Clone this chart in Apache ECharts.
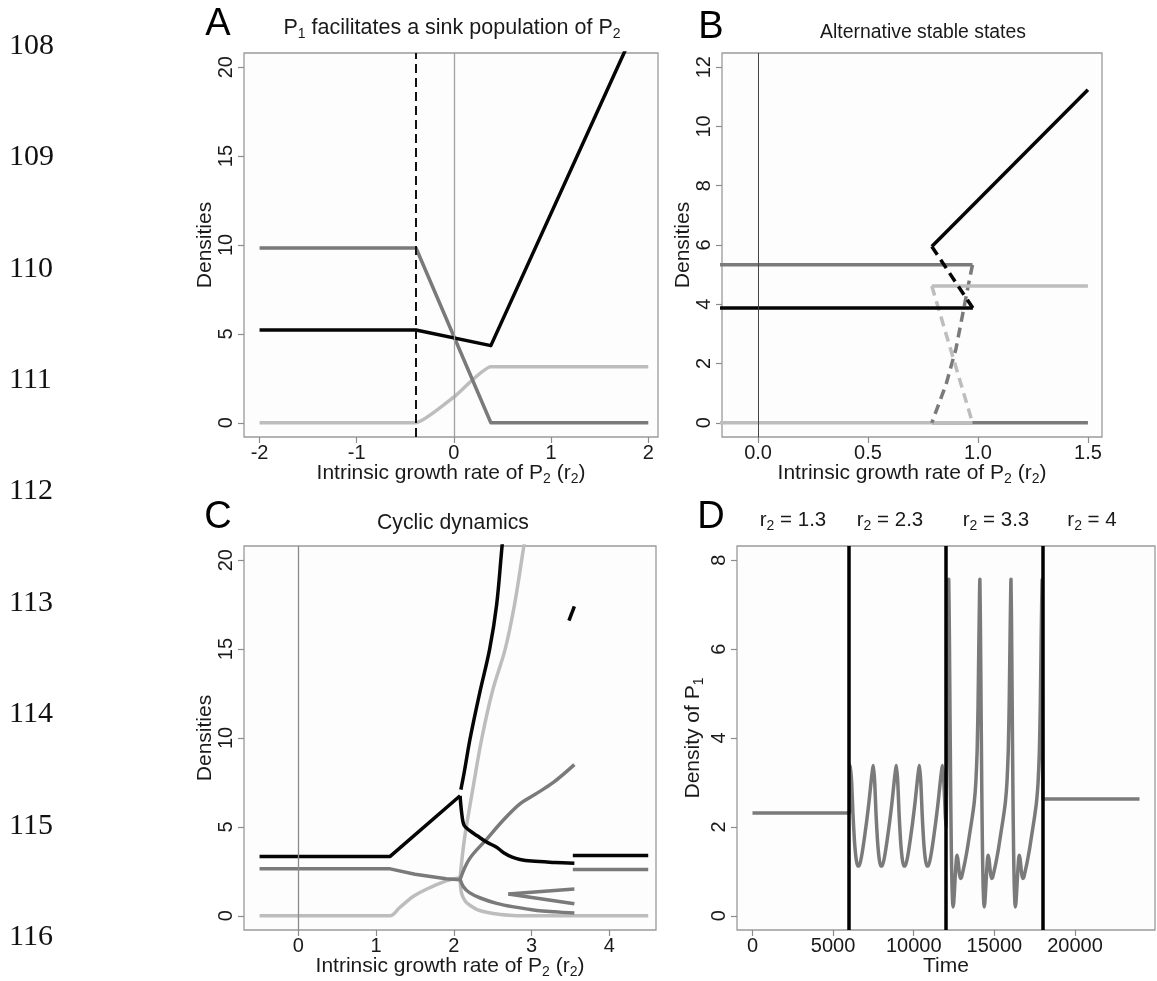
<!DOCTYPE html>
<html><head><meta charset="utf-8">
<script src="https://cdn.jsdelivr.net/npm/echarts@6/dist/echarts.min.js"></script>
<style>html,body{margin:0;padding:0;background:#fff}#c{width:1157px;height:981px}</style>
</head><body><div id="c"></div>
<script>
// ================= DATA =================
const lineNumbers = ['108','109','110','111','112','113','114','115','116'];
const panelLetters = ['A','B','C','D'];
const titleA = ['P','1',' facilitates a sink population of P','2'];
const titleB = 'Alternative stable states';
const titleC = 'Cyclic dynamics';
const regimeLabels = ['1.3','2.3','3.3','4'];
const xNameR2 = 'Intrinsic growth rate of P';
const yNameDens = 'Densities';

// tick values
const A_xTicks = [-2,-1,0,1,2],  A_yTicks = [0,5,10,15,20];
const B_xTicks = [0,0.5,1,1.5], B_yTicks = [0,2,4,6,8,10,12];
const C_xTicks = [0,1,2,3,4],    C_yTicks = [0,5,10,15,20];
const D_xTicks = [0,5000,10000,15000,20000], D_yTicks = [0,2,4,6,8];

// Panel A: densities vs r2
const A_threshold = -0.39;
const A_light = [[-2,0],[-0.39,0],[0,1.45],[0.38,3.15],[2,3.15]];
const A_dark  = [[-2,9.83],[-0.39,9.83],[0.38,0],[2,0]];
const A_black = [[-2,5.22],[-0.39,5.22],[0.38,4.34],[2,23.8]];

// Panel B: alternative stable states
const B_darkZero  = [[0.79,0],[1.5,0]];
const B_lightZero = [[-0.2,0],[0.975,0]];
const B_darkUp    = [[-0.2,5.33],[0.975,5.33]];
const B_darkDash  = [[0.975,5.33],[0.955,4.6],[0.90,2.5],[0.855,1.3],[0.79,0]];
const B_lightUp   = [[0.79,4.62],[1.5,4.62]];
const B_lightDash = [[0.79,4.62],[0.975,0]];
const B_blackLow  = [[-0.2,3.87],[0.977,3.87]];
const B_blackDash = [[0.79,5.95],[0.977,3.87]];
const B_blackUp   = [[0.79,5.95],[1.5,11.24]];

// Panel C: cyclic dynamics (equilibria, cycle max/min)
const C_lightMain = [[-0.5,0],[1.18,0],[1.3,0.45],[1.48,1.1],[1.7,1.6],[1.91,1.98],[2.08,2.14]];
const C_lightUp   = [[2.08,2.14],[2.12,3.8],[2.16,5],[2.25,7.3],[2.36,10],[2.5,12.7],[2.66,15],[2.78,17.5],[2.9,20.8],[2.93,21.6]];
const C_lightLow  = [[2.08,2.14],[2.1,1.24],[2.15,0.8],[2.21,0.58],[2.3,0.35],[2.42,0.2],[2.6,0.07],[2.75,0.02],[2.85,0],[4.5,0]];
const C_darkMain  = [[-0.5,2.64],[1.18,2.64],[1.5,2.34],[1.9,2.08],[2.08,2.03]];
const C_darkUp    = [[2.08,2.05],[2.2,3.2],[2.42,4.3],[2.64,5.4],[2.85,6.3],[3.07,6.9],[3.28,7.5],[3.55,8.5]];
const C_darkLow   = [[2.08,2.05],[2.12,1.65],[2.2,1.3],[2.34,1.0],[2.55,0.7],[2.77,0.5],[3.07,0.3],[3.3,0.22],[3.55,0.15]];
const C_darkForkA = [[2.7,1.22],[3.55,1.5]];
const C_darkForkB = [[2.7,1.22],[3.55,0.68]];
const C_darkRight = [[3.53,2.6],[4.5,2.6]];
const C_blackRise = [[-0.5,3.34],[1.18,3.34],[2.08,6.75]];
const C_blackLow  = [[2.08,6.75],[2.10,5.8],[2.13,5.1],[2.2,4.8],[2.3,4.5],[2.42,4.15],[2.55,3.85],[2.64,3.55],[2.75,3.3],[2.85,3.17],[3.0,3.08],[3.3,3.0],[3.55,2.95]];
const C_blackUp   = [[2.09,7.1],[2.13,8.0],[2.21,10],[2.33,12.5],[2.46,15],[2.55,17.5],[2.62,20.8],[2.65,22]];
const C_blackIsle = [[3.48,16.6],[3.55,17.4]];
const C_blackRight= [[3.53,3.39],[4.5,3.39]];

// Panel D: time series of P1
const D_switches = [6000,12000,18000];
const D_time = [0,6000,
 6070,6150,6230,6320,6420,6520,6620,6770,6920,7070,7220,7350,7450,
 7500,7580,7660,7750,7850,7950,8050,8200,8350,8500,8650,8780,8880,
 8930,9010,9090,9180,9280,9380,9480,9630,9780,9930,10080,10210,10310,
 10360,10440,10520,10610,10710,10810,10910,11060,11210,11360,11510,11640,11740,
 11790,11870,11950,12000,12060,12120,
 12170,12210,12250,12290,12330,12370,12410,12440,12480,12530,12590,12650,12700,12760,12830,12900,12960,13050,13170,13320,13470,13620,13750,13850,13930,13990,14040,
 14100,14140,14180,14220,14260,14300,14340,14370,14410,14460,14520,14580,14630,14690,14760,14830,14890,14980,15100,15250,15400,15550,15680,15780,15860,15920,15970,
 16030,16070,16110,16150,16190,16230,16270,16300,16340,16390,16450,16510,16560,16620,16690,16760,16820,16910,17030,17180,17330,17480,17610,17710,17790,17850,17900,
 17960,18000,24000];
const D_p1 = [2.31,2.31,
 3.38,3.0,2.3,1.7,1.3,1.12,1.12,1.35,1.7,2.1,2.55,3.0,3.3,
 3.38,3.0,2.3,1.7,1.3,1.12,1.12,1.35,1.7,2.1,2.55,3.0,3.3,
 3.38,3.0,2.3,1.7,1.3,1.12,1.12,1.35,1.7,2.1,2.55,3.0,3.3,
 3.38,3.0,2.3,1.7,1.3,1.12,1.12,1.35,1.7,2.1,2.55,3.0,3.3,
 3.38,3.0,2.3,2.0,3.6,5.6,
 7.57,6.3,4.5,2.8,1.5,0.7,0.3,0.2,0.3,0.6,1.0,1.3,1.36,1.2,0.95,0.84,0.86,1.0,1.2,1.5,1.85,2.2,2.55,3.0,3.7,4.8,6.2,
 7.57,6.3,4.5,2.8,1.5,0.7,0.3,0.2,0.3,0.6,1.0,1.3,1.36,1.2,0.95,0.84,0.86,1.0,1.2,1.5,1.85,2.2,2.55,3.0,3.7,4.8,6.2,
 7.57,6.3,4.5,2.8,1.5,0.7,0.3,0.2,0.3,0.6,1.0,1.3,1.36,1.2,0.95,0.84,0.86,1.0,1.2,1.5,1.85,2.2,2.55,3.0,3.7,4.8,6.2,
 7.57,2.63,2.63];

// ================= STYLE / LAYOUT =================
const FF = '"Liberation Sans", Arial, Helvetica, sans-serif';
const BLACK = '#050505', DARK = '#7a7a7a', LIGHT = '#bdbdbd';
const TXT = '#1a1a1a';
const LW = 3.5;

const grids = [
  {left:244, top:53,  width:414, height:384},
  {left:722, top:53,  width:380, height:384},
  {left:244, top:546, width:412, height:384},
  {left:737, top:546, width:418, height:384}
].map(g => Object.assign({show:true, borderColor:'#9a9a9a', borderWidth:1.3, backgroundColor:'#fdfdfd'}, g));

const richStyle = {
  n: {fontSize:21, lineHeight:26, fontFamily:FF, color:TXT},
  s: {fontSize:14, lineHeight:14, fontFamily:FF, color:TXT, verticalAlign:'bottom'}
};

function xAx(gi, min, max, ticks, name, fmt){
  return {type:'value', gridIndex:gi, min, max,
    axisLine:{show:false, onZero:false}, splitLine:{show:false},
    axisTick:{show:true, length:6, inside:false, customValues:ticks, lineStyle:{color:'#8c8c8c', width:1.2}},
    axisLabel:{show:true, customValues:ticks, margin:6, fontSize:20, fontFamily:FF, color:TXT, formatter:fmt||(v=>String(v))},
    name, nameLocation:'middle', nameGap:23, nameMoveOverlap:false,
    nameTextStyle:{fontSize:21, fontFamily:FF, color:TXT, lineHeight:26, rich:richStyle}};
}
function yAx(gi, min, max, ticks, name, gap){
  return {type:'value', gridIndex:gi, min, max,
    axisLine:{show:false, onZero:false}, splitLine:{show:false},
    axisTick:{show:true, length:6, inside:false, customValues:ticks, lineStyle:{color:'#8c8c8c', width:1.2}},
    axisLabel:{show:true, customValues:ticks, rotate:90, margin:8, fontSize:20, fontFamily:FF, color:TXT},
    name, nameLocation:'middle', nameGap:gap, nameMoveOverlap:false,
    nameTextStyle:{fontSize:21, fontFamily:FF, color:TXT, lineHeight:26, rich:richStyle}};
}
const r2Name = '{n|' + xNameR2 + '}{s|2}{n| (r}{s|2}{n|)}';

function ln(gi, data, color, width, dash, smooth){
  return {type:'line', xAxisIndex:gi, yAxisIndex:gi, data, symbol:'none', showSymbol:false,
    silent:true, animation:false, clip:true, smooth: smooth||false,
    lineStyle:{color, width, type:dash||'solid', cap:'butt', join:'round'}};
}
function vline(gi, xs, color, width, dash){
  return {type:'line', xAxisIndex:gi, yAxisIndex:gi, data:[], silent:true, animation:false,
    markLine:{symbol:['none','none'], silent:true, animation:false, label:{show:false},
      lineStyle:{color, width, type:dash||'solid'}, emphasis:{disabled:true},
      data: xs.map(x => ({xAxis:x}))}};
}

const SM = 0.35;
const series = [
  // A
  vline(0, [0], '#a0a0a0', 1.3),
  vline(0, [A_threshold], '#111', 2, [9,5]),
  ln(0, A_light, LIGHT, LW, null, 0.15), ln(0, A_dark, DARK, LW), ln(0, A_black, BLACK, LW),
  // B
  vline(1, [0], '#444', 1),
  ln(1, B_darkZero, DARK, LW), ln(1, B_lightZero, LIGHT, LW),
  ln(1, B_darkUp, DARK, LW), ln(1, B_darkDash, DARK, LW, [10,6]),
  ln(1, B_lightUp, LIGHT, LW), ln(1, B_lightDash, LIGHT, LW, [10,6]),
  ln(1, B_blackLow, BLACK, LW), ln(1, B_blackDash, BLACK, LW, [10,6]), ln(1, B_blackUp, BLACK, LW),
  // C
  vline(2, [0], '#8a8a8a', 1.3),
  ln(2, C_lightMain, LIGHT, LW, null, 0.3), ln(2, C_lightUp, LIGHT, LW, null, SM), ln(2, C_lightLow, LIGHT, LW, null, SM),
  ln(2, C_darkMain, DARK, LW), ln(2, C_darkUp, DARK, LW, null, SM), ln(2, C_darkLow, DARK, LW, null, SM),
  ln(2, C_darkForkA, DARK, LW), ln(2, C_darkForkB, DARK, LW), ln(2, C_darkRight, DARK, LW),
  ln(2, C_blackRise, BLACK, LW), ln(2, C_blackLow, BLACK, LW, null, SM), ln(2, C_blackUp, BLACK, LW, null, SM),
  ln(2, C_blackIsle, BLACK, LW), ln(2, C_blackRight, BLACK, LW),
  // D
  ln(3, D_time.map((t,i)=>[t, D_p1[i]]), DARK, LW, null, 0.2),
  vline(3, D_switches, '#000', 3.5)
];

// ---------- text graphics ----------
const graphics = [];
function gtext(x, y, text, opts){
  const st = Object.assign({text, x, y, fill:TXT,
    textAlign:'center', textVerticalAlign:'middle', align:'center', verticalAlign:'middle',
    font:'20px ' + FF}, opts||{});
  graphics.push({type:'text', silent:true, style:st});
}
function mkRich(size){
  return {
    n: {fontSize:size, lineHeight:26, fontFamily:FF, fill:TXT, color:TXT},
    s: {fontSize:Math.round(size*0.66), lineHeight:Math.round(size*0.66), fontFamily:FF, fill:TXT, color:TXT, verticalAlign:'bottom'}
  };
}
// line numbers
const lnY0 = 46, lnStep = 111.4;
lineNumbers.forEach((t,i) => gtext(9, lnY0 + i*lnStep, t,
  {textAlign:'left', align:'left', font:'30px "Liberation Serif", "Times New Roman", serif', fill:'#111'}));
// panel letters
const letterPos = [[218,25],[711,27.5],[218,518],[711,517.5]];
panelLetters.forEach((t,i) => gtext(letterPos[i][0], letterPos[i][1], t, {font:'38px ' + FF, fill:'#000'}));
// titles
gtext(452, 28, '{n|' + titleA[0] + '}{s|' + titleA[1] + '}{n|' + titleA[2] + '}{s|' + titleA[3] + '}', {rich:mkRich(21.5)});
gtext(923, 33, '{n|' + titleB + '}', {rich:mkRich(19.4)});
gtext(453, 523, '{n|' + titleC + '}', {rich:mkRich(21.2)});
const regimeX = [793, 890, 996, 1092];
regimeLabels.forEach((v,i) => gtext(regimeX[i], 520, '{n|r}{s|2}{n| = ' + v + '}', {rich:mkRich(20.5)}));

const option = {
  animation:false,
  backgroundColor:'#ffffff',
  textStyle:{fontFamily:FF},
  grid: grids,
  xAxis: [
    xAx(0, -2.16, 2.1, A_xTicks, r2Name),
    xAx(1, -0.164, 1.564, B_xTicks, r2Name, v => v.toFixed(1)),
    xAx(2, -0.7, 4.6, C_xTicks, r2Name),
    xAx(3, -960, 24960, D_xTicks, '{n|Time}')
  ],
  yAxis: [
    yAx(0, -0.8, 20.8, A_yTicks, '{n|' + yNameDens + '}', 26),
    yAx(1, -0.48, 12.48, B_yTicks, '{n|' + yNameDens + '}', 26),
    yAx(2, -0.8, 20.8, C_yTicks, '{n|' + yNameDens + '}', 26),
    yAx(3, -0.32, 8.32, D_yTicks, '{n|Density of P}{s|1}', 31)
  ],
  series,
  graphic: graphics
};
const chart = echarts.init(document.getElementById('c'));
chart.setOption(option);
</script>
</body></html>
